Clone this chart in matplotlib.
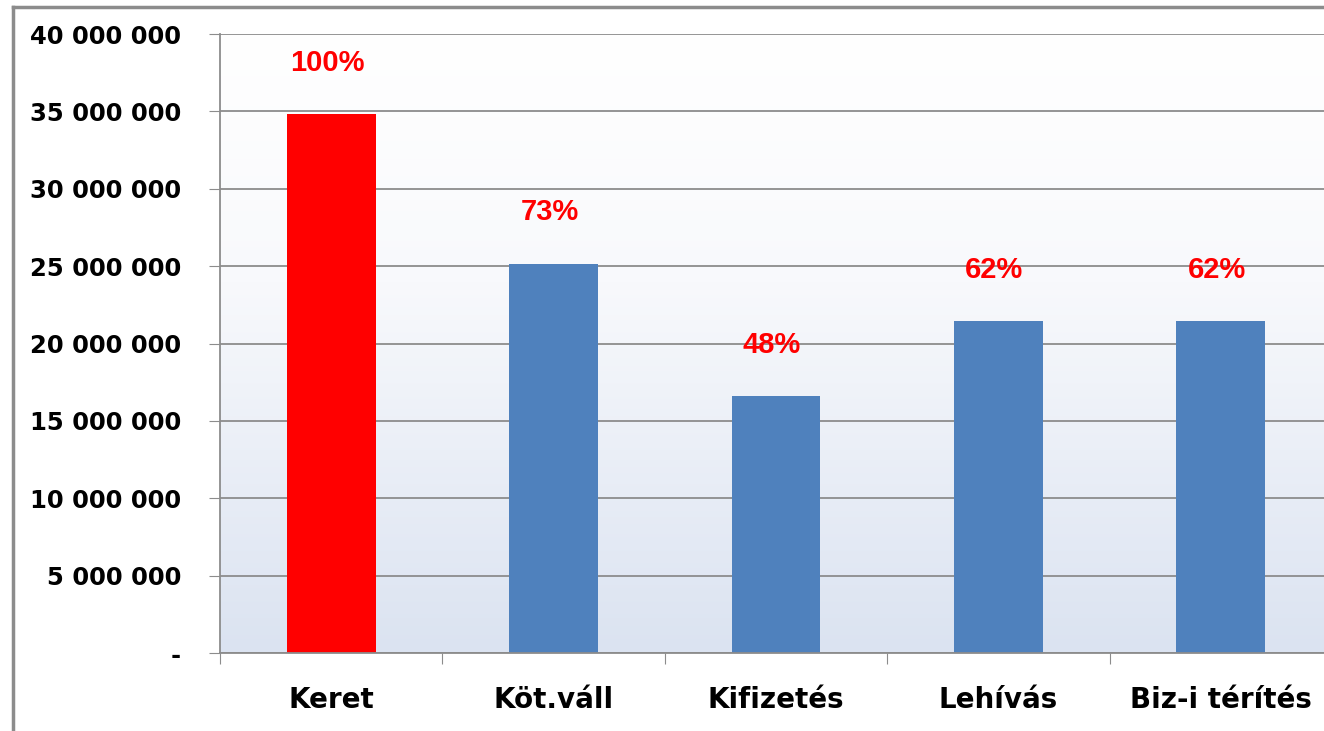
import numpy as np
import matplotlib
matplotlib.use("Agg")
import matplotlib.pyplot as plt
from matplotlib.colors import LinearSegmentedColormap
from matplotlib.lines import Line2D

# --- data ---
categories = ["Keret", "Köt.váll", "Kifizetés", "Lehívás", "Biz-i térítés"]
values = [34_830_000, 25_140_000, 16_600_000, 21_450_000, 21_450_000]
pct_labels = ["100%", "73%", "48%", "62%", "62%"]
bar_colors = ["#ff0000", "#4f81bd", "#4f81bd", "#4f81bd", "#4f81bd"]
yticks = np.arange(0, 40_000_001, 5_000_000)


def fmt_tick(v):
    if v == 0:
        return "-"
    return f"{int(v):,}".replace(",", " ")


fig = plt.figure(figsize=(13.24, 7.31), dpi=100)
ax = fig.add_axes([220 / 1324, 1 - 653 / 731, 1112 / 1324, 619 / 731])

x = np.arange(len(categories))
ax.set_xlim(-0.5, len(categories) - 0.5)
ax.set_ylim(0, 40_000_000)

# gradient background (white top -> pale blue bottom)
cmap = LinearSegmentedColormap.from_list(
    "bg", [(0.0, "#dbe3f1"), (0.6, "#f8f9fc"), (1.0, "#ffffff")])
grad = np.linspace(0, 1, 256).reshape(-1, 1)
ax.imshow(grad, aspect="auto", cmap=cmap, origin="lower",
          extent=[-0.5, len(categories) - 0.5, 0, 40_000_000], zorder=0)

ax.set_yticks(yticks)
ax.set_yticklabels([fmt_tick(v) for v in yticks])
ax.yaxis.grid(True, color="#8c8c8c", linewidth=1.3, zorder=1)
ax.set_axisbelow(True)

ax.bar(x, values, width=0.4, color=bar_colors, zorder=2)

for xi, v, lab in zip(x, values, pct_labels):
    ax.annotate(lab, (xi, v), xytext=(-3, 27), textcoords="offset points",
                ha="center", va="bottom", color="#ff0000", fontsize=21,
                fontweight="bold", family="Liberation Sans")

# x ticks at category boundaries, labels centered
ax.set_xticks(np.arange(-0.5, len(categories), 1.0))
ax.set_xticklabels([])
ax.set_xticks(x, minor=True)
ax.set_xticklabels(categories, minor=True, fontsize=20, fontweight="bold",
                   family="DejaVu Sans")
ax.tick_params(axis="x", which="major", length=8, color="#8c8c8c")
ax.tick_params(axis="x", which="minor", length=0, pad=24)
ax.tick_params(axis="y", length=8, color="#8c8c8c", labelsize=17.5, pad=20)
for t in ax.get_yticklabels():
    t.set_fontweight("bold")

for side in ["top", "right"]:
    ax.spines[side].set_visible(False)
for side in ["left", "bottom"]:
    ax.spines[side].set_color("#8c8c8c")
    ax.spines[side].set_linewidth(1.3)

# outer chart border (only left and top visible in the crop)
fig.add_artist(Line2D([13 / 1324, 13 / 1324], [0, 1 - 7 / 731],
                      color="#8c8c8c", linewidth=2.5, transform=fig.transFigure))
fig.add_artist(Line2D([13 / 1324, 1], [1 - 7 / 731, 1 - 7 / 731],
                      color="#8c8c8c", linewidth=2.5, transform=fig.transFigure))

fig.savefig("out.png", dpi=100)
